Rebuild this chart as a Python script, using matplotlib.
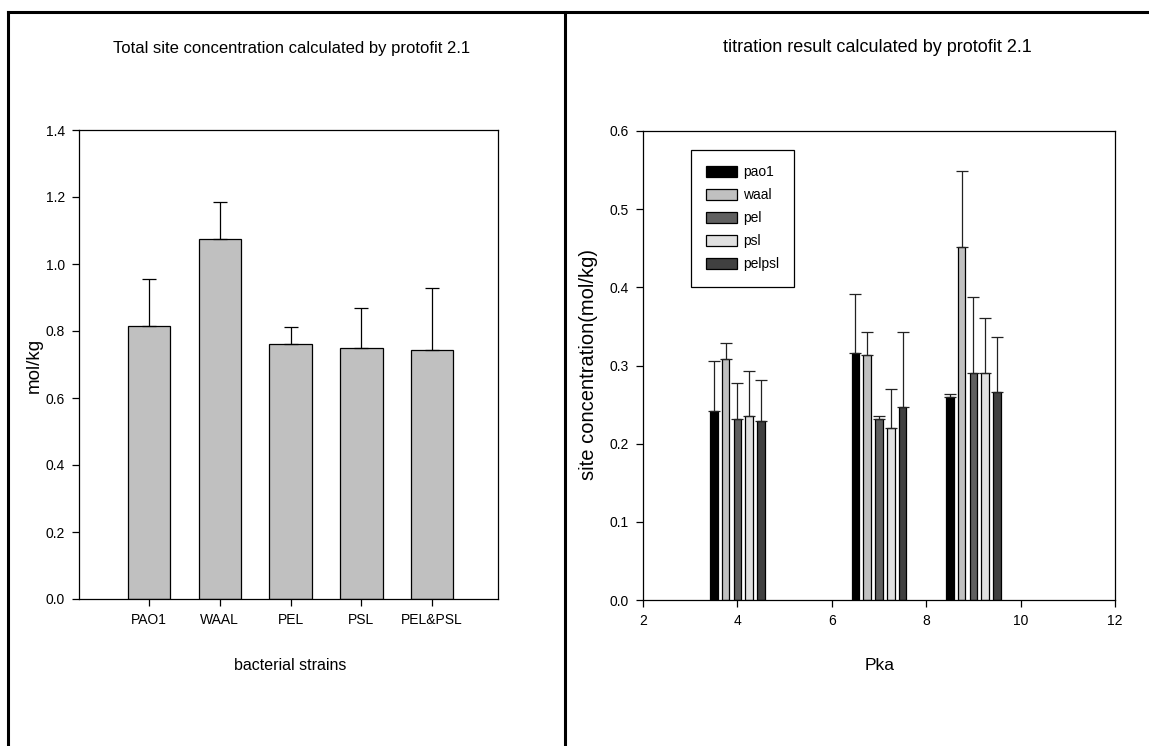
import numpy as np
import matplotlib.pyplot as plt
from matplotlib.lines import Line2D

# Datos - panel izquierdo
strains = ['PAO1', 'WAAL', 'PEL', 'PSL', 'PEL&PSL']
total_site = [0.815, 1.075, 0.760, 0.750, 0.742]
total_err = [0.140, 0.110, 0.052, 0.120, 0.186]

# Datos - panel derecho (tres grupos de pKa)
series = ['pao1', 'waal', 'pel', 'psl', 'pelpsl']
series_colors = ['#000000', '#c0c0c0', '#606060', '#e0e0e0', '#404040']
pka_pao1 = [3.5, 6.5, 8.5]
pka_waal = [3.75, 6.75, 8.75]
pka_pel = [4.0, 7.0, 9.0]
pka_psl = [4.25, 7.25, 9.25]
pka_pelpsl = [4.5, 7.5, 9.5]
conc_pao1 = [0.242, 0.316, 0.260]
conc_waal = [0.308, 0.314, 0.451]
conc_pel = [0.232, 0.232, 0.291]
conc_psl = [0.236, 0.220, 0.291]
conc_pelpsl = [0.229, 0.247, 0.266]
err_pao1 = [0.064, 0.075, 0.003]
err_waal = [0.021, 0.029, 0.098]
err_pel = [0.045, 0.004, 0.097]
err_psl = [0.057, 0.050, 0.070]
err_pelpsl = [0.053, 0.096, 0.070]

font = ['Liberation Sans', 'DejaVu Sans']

W, H = 1149, 746
fig = plt.figure(figsize=(W / 100, H / 100), dpi=100)

def px_axes(x0, y0, x1, y1):
    return fig.add_axes([x0 / W, 1 - y1 / H, (x1 - x0) / W, (y1 - y0) / H])

# Marco tipo tabla
lw_frame = 2.2
fig.add_artist(Line2D([8 / W, 1], [1 - 12 / H] * 2, color='black', lw=lw_frame))
fig.add_artist(Line2D([8 / W] * 2, [0, 1 - 12 / H], color='black', lw=lw_frame))
fig.add_artist(Line2D([565 / W] * 2, [0, 1 - 12 / H], color='black', lw=lw_frame))

# Panel izquierdo
ax1 = px_axes(79, 130, 498, 599)
x = np.arange(len(strains))
ax1.bar(x, total_site, width=0.6, color='#c0c0c0', edgecolor='black', linewidth=0.9)
ax1.errorbar(x, total_site, yerr=[np.zeros(len(x)), total_err], fmt='none',
             ecolor='black', elinewidth=0.9, capsize=5, capthick=0.9)
ax1.set_xlim(-0.99, 4.93)
ax1.set_ylim(0, 1.4)
ax1.set_yticks(np.arange(0, 1.41, 0.2))
ax1.set_yticklabels(['%.1f' % v for v in np.arange(0, 1.41, 0.2)])
ax1.set_xticks(x)
ax1.set_xticklabels(strains)
ax1.tick_params(direction='out', length=5, width=0.9, top=False, right=False, pad=5)
for lab in ax1.get_xticklabels() + ax1.get_yticklabels():
    lab.set_family(font)
    lab.set_fontsize(10)
for s in ax1.spines.values():
    s.set_linewidth(0.9)

fig.text(292 / W, 1 - 48 / H, 'Total site concentration calculated by protofit 2.1',
         ha='center', va='center', family=font, fontsize=12)
fig.text(290 / W, 1 - 666 / H, 'bacterial strains', ha='center', va='center',
         family=font, fontsize=11.5)
fig.text(34 / W, 1 - 365 / H, 'mol/kg', ha='center', va='center', rotation=90,
         family=font, fontsize=13.5)

# Panel derecho
ax2 = px_axes(643, 131, 1115, 600)
pkas = [pka_pao1, pka_waal, pka_pel, pka_psl, pka_pelpsl]
concs = [conc_pao1, conc_waal, conc_pel, conc_psl, conc_pelpsl]
errs = [err_pao1, err_waal, err_pel, err_psl, err_pelpsl]
for name, col, px, cy, ce in zip(series, series_colors, pkas, concs, errs):
    ax2.bar(px, cy, width=0.16, color=col, edgecolor='black', linewidth=0.9, label=name)
    ax2.errorbar(px, cy, yerr=[np.zeros(len(px)), ce], fmt='none',
                 ecolor='#222222', elinewidth=0.9, capsize=4, capthick=0.9)
ax2.set_xlim(2, 12)
ax2.set_ylim(0, 0.6)
ax2.set_xticks([2, 4, 6, 8, 10, 12])
ax2.set_yticks(np.arange(0, 0.61, 0.1))
ax2.set_yticklabels(['%.1f' % v for v in np.arange(0, 0.61, 0.1)])
ax2.tick_params(direction='out', length=5, width=0.9, top=False, right=False, pad=5)
for lab in ax2.get_xticklabels() + ax2.get_yticklabels():
    lab.set_family(font)
    lab.set_fontsize(10)
for s in ax2.spines.values():
    s.set_linewidth(0.9)

leg = ax2.legend(loc='upper left', bbox_to_anchor=(0.1017, 0.9595), borderaxespad=0,
                 fancybox=False, edgecolor='black', framealpha=1,
                 handlelength=2.2, handleheight=0.85, labelspacing=0.65,
                 borderpad=1.1, handletextpad=0.45,
                 prop={'family': font, 'size': 10})
leg.get_frame().set_linewidth(0.9)

fig.text(877 / W, 1 - 48 / H, 'titration result calculated by protofit 2.1',
         ha='center', va='center', family=font, fontsize=13)
fig.text(880 / W, 1 - 666 / H, 'Pka', ha='center', va='center',
         family=font, fontsize=12.5)
fig.text(589 / W, 1 - 364 / H, 'site concentration(mol/kg)', ha='center', va='center',
         rotation=90, family=font, fontsize=14.5)

plt.savefig('out.png', dpi=100)
